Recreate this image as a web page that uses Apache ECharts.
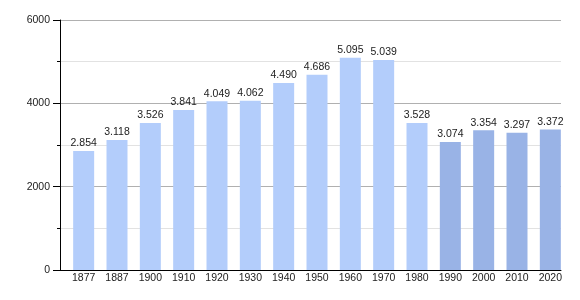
<!DOCTYPE html>
<html><head><meta charset="utf-8">
<script src="https://cdn.jsdelivr.net/npm/echarts@6/dist/echarts.min.js"></script>
<style>html,body{margin:0;padding:0;background:#fff}#c{width:580px;height:300px}</style>
</head><body><div id="c"></div>
<script>
const years = ['1877','1887','1900','1910','1920','1930','1940','1950','1960','1970','1980','1990','2000','2010','2020'];
const population = [2854,3118,3526,3841,4049,4062,4490,4686,5095,5039,3528,3074,3354,3297,3372];
const lightColor = '#b3cdfb';
const darkColor = '#99b3e6';
const darkFrom = '1990';

const chart = echarts.init(document.getElementById('c'));
const fmt = v => String(v).replace(/\B(?=(\d{3})+(?!\d))/g, '.');
chart.setOption({
  animation: false,
  textStyle: {fontFamily: 'Liberation Sans'},
  grid: [
    {left: 60, right: 19, top: 20, bottom: 30},
    {left: 67, right: 13, top: 20, bottom: 30}
  ],
  xAxis: [
    {gridIndex: 0, type: 'value', min: 0, max: 1,
      axisLine: {show: true, onZero: false, lineStyle: {color: '#000', width: 1}},
      axisTick: {show: false}, axisLabel: {show: false}, splitLine: {show: false}},
    {gridIndex: 1, type: 'category', data: years,
      axisLine: {show: false}, axisTick: {show: false},
      axisLabel: {color: '#222', fontSize: 10.5, margin: 3}}
  ],
  yAxis: [
    {gridIndex: 0, type: 'value', min: 0, max: 6000, interval: 2000,
      axisLine: {show: true, lineStyle: {color: '#000', width: 1}},
      axisTick: {show: true, length: 7, lineStyle: {color: '#000'}},
      minorTick: {show: true, splitNumber: 2, length: 3, lineStyle: {color: '#000'}},
      splitLine: {lineStyle: {color: '#b0b0b0', width: 1}},
      minorSplitLine: {show: true, lineStyle: {color: '#e2e2e2', width: 1}},
      axisLabel: {color: '#222', fontSize: 10.5, margin: 10, formatter: v => String(v)}},
    {gridIndex: 1, type: 'value', min: 0, max: 6000, show: false}
  ],
  series: [{
    type: 'bar', xAxisIndex: 1, yAxisIndex: 1,
    barWidth: 21,
    data: population.map((v, i) => ({
      value: v,
      itemStyle: {color: years[i] >= darkFrom ? darkColor : lightColor}
    })),
    label: {show: true, position: 'top', distance: 2, color: '#222', fontSize: 10.5,
      formatter: p => fmt(p.value)}
  }]
});
</script></body></html>
